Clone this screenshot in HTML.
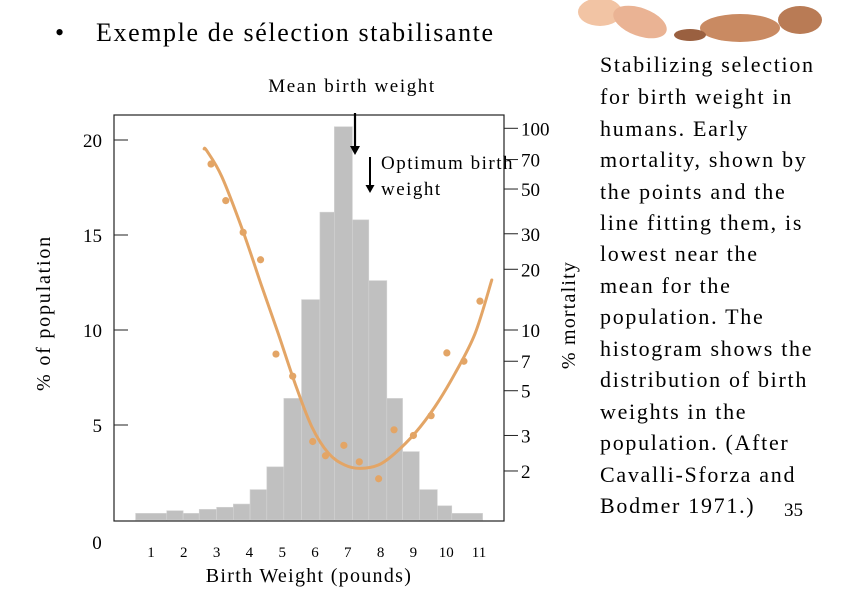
<!DOCTYPE html>
<html><head><meta charset="utf-8"><style>
body{margin:0;background:#fff;width:850px;height:592px;overflow:hidden;font-family:"Liberation Serif",serif}
</style></head><body>
<svg width="850" height="592" viewBox="0 0 850 592" font-family="Liberation Serif, serif">
<g>
<ellipse cx="600" cy="12" rx="22" ry="14" fill="#f2c4a4"/>
<ellipse cx="640" cy="22" rx="28" ry="14" fill="#eab394" transform="rotate(20 640 22)"/>
<ellipse cx="740" cy="28" rx="40" ry="14" fill="#c98a62"/>
<ellipse cx="800" cy="20" rx="22" ry="14" fill="#b97b55"/>
<ellipse cx="690" cy="35" rx="16" ry="6" fill="#9a6040"/>
</g>
<text x="55" y="41" font-size="26">•</text>
<text x="96" y="41" font-size="26" letter-spacing="1.6">Exemple de sélection stabilisante</text>
<g font-size="22" letter-spacing="1.7">
<text x="600" y="72">Stabilizing selection</text>
<text x="600" y="104">for birth weight in</text>
<text x="600" y="136">humans. Early</text>
<text x="600" y="167">mortality, shown by</text>
<text x="600" y="199">the points and the</text>
<text x="600" y="230">line fitting them, is</text>
<text x="600" y="261">lowest near the</text>
<text x="600" y="293">mean for the</text>
<text x="600" y="324">population. The</text>
<text x="600" y="356">histogram shows the</text>
<text x="600" y="387">distribution of birth</text>
<text x="600" y="419">weights in the</text>
<text x="600" y="450">population. (After</text>
<text x="600" y="482">Cavalli-Sforza and</text>
<text x="600" y="513">Bodmer 1971.)</text>
</g>
<text x="784" y="516" font-size="19">35</text>
<g id="chart"></g>
</svg>
<script>
const binEdges=[0.53,1.48,1.98,2.47,3.0,3.51,4.02,4.53,5.05,5.59,6.15,6.59,7.14,7.64,8.19,8.67,9.18,9.73,10.17,11.11];
const binPercents=[0.35,0.49,0.35,0.56,0.67,0.84,1.6,2.8,6.4,11.6,16.2,20.7,15.8,12.6,6.4,3.6,1.6,0.75,0.35];
const pointWeights=[2.83,3.28,3.81,4.34,4.81,5.32,5.93,6.32,6.88,7.35,7.94,8.41,9.0,9.54,10.02,10.54,11.03];
const pointMortality=[66.5,43.8,30.5,22.3,7.6,5.9,2.8,2.38,2.68,2.22,1.83,3.2,3.0,3.76,7.7,7.0,13.9];
const curveWeights=[2.62,2.70,3.16,3.81,4.38,4.88,5.39,5.90,6.41,6.91,7.37,7.93,8.44,9.05,9.66,10.27,10.88,11.39];
const curveMortality=[79,77.4,57.5,30.7,16.4,9.6,5.44,3.32,2.45,2.14,2.06,2.14,2.45,3.08,4.17,6.1,9.6,17.7];
const xTicks=[1,2,3,4,5,6,7,8,9,10,11];
const leftTicks=[5,10,15,20];
const rightTicks=[2,3,5,7,10,20,30,50,70,100];

const NS='http://www.w3.org/2000/svg';
const g=document.getElementById('chart');
const X=w=>151+(w-1)*32.8;
const YL=p=>520-p*19;
const YR=m=>330-201.7*Math.log10(m/10);
function el(t,a,parent){const e=document.createElementNS(NS,t);for(const k in a)e.setAttribute(k,a[k]);(parent||g).appendChild(e);return e;}

for(let i=0;i<binPercents.length;i++){
 const b=el('rect',{x:X(binEdges[i]),y:YL(binPercents[i]),width:X(binEdges[i+1])-X(binEdges[i]),height:520-YL(binPercents[i]),fill:'#c0c0c0',stroke:'#d4d4d4','stroke-width':0.6});
 
 
}
const frame=el('rect',{x:114,y:115,width:390,height:406,fill:'none',stroke:'#222','stroke-width':1.2});


for(const t of leftTicks){el('line',{x1:114,x2:128,y1:YL(t),y2:YL(t),stroke:'#222'});
 const tx=el('text',{x:102,y:YL(t)+7,'font-size':19,'text-anchor':'end'});tx.textContent=t;
 
 }
const zero=el('text',{x:97,y:549,'font-size':19,'text-anchor':'middle'});zero.textContent='0';


const yt=el('text',{x:0,y:0,'font-size':20,'letter-spacing':1.8,'text-anchor':'middle',transform:'translate(50,313) rotate(-90)'});yt.textContent='% of population';


for(const t of rightTicks){el('line',{x1:504,x2:518,y1:YR(t),y2:YR(t),stroke:'#222'});
 const tx=el('text',{x:521,y:YR(t)+7,'font-size':19});tx.textContent=t;
 
 }
const rt=el('text',{x:0,y:0,'font-size':20,'letter-spacing':1.2,'text-anchor':'middle',transform:'translate(575,315) rotate(-90)'});rt.textContent='% mortality';


for(const t of xTicks){const tx=el('text',{x:X(t),y:557,'font-size':15,'text-anchor':'middle'});tx.textContent=t;
 
 }
const xt=el('text',{x:309,y:582,'font-size':20,'letter-spacing':1.3,'text-anchor':'middle'});xt.textContent='Birth Weight (pounds)';


const pts=curveWeights.map((w,i)=>[X(w),YR(curveMortality[i])]);
let d='M'+pts[0][0]+','+pts[0][1];
for(let i=0;i<pts.length-1;i++){const p0=pts[Math.max(0,i-1)],p1=pts[i],p2=pts[i+1],p3=pts[Math.min(pts.length-1,i+2)];
 d+=` C${p1[0]+(p2[0]-p0[0])/6},${p1[1]+(p2[1]-p0[1])/6} ${p2[0]-(p3[0]-p1[0])/6},${p2[1]-(p3[1]-p1[1])/6} ${p2[0]},${p2[1]}`;}
const c=el('path',{d:d,fill:'none',stroke:'#e3a566','stroke-width':3,'stroke-linecap':'round'});


for(let i=0;i<pointWeights.length;i++){const p=el('circle',{cx:X(pointWeights[i]),cy:YR(pointMortality[i]),r:3.6,fill:'#e3a566'});
 
 }
const mt=el('text',{x:352,y:92,'font-size':19,'letter-spacing':1.6,'text-anchor':'middle'});mt.textContent='Mean birth weight';


el('line',{x1:355,x2:355,y1:113,y2:148,stroke:'#000','stroke-width':2.2});
el('path',{d:'M350,146 L360,146 L355,155 Z',fill:'#000'});
el('line',{x1:370,x2:370,y1:157,y2:187,stroke:'#000','stroke-width':2});
el('path',{d:'M365.5,185 L374.5,185 L370,193 Z',fill:'#000'});
const o1=el('text',{x:381,y:169,'font-size':19,'letter-spacing':1.5});o1.textContent='Optimum birth';


const o2=el('text',{x:381,y:195,'font-size':19,'letter-spacing':1.5});o2.textContent='weight';


</script>
</body></html>
